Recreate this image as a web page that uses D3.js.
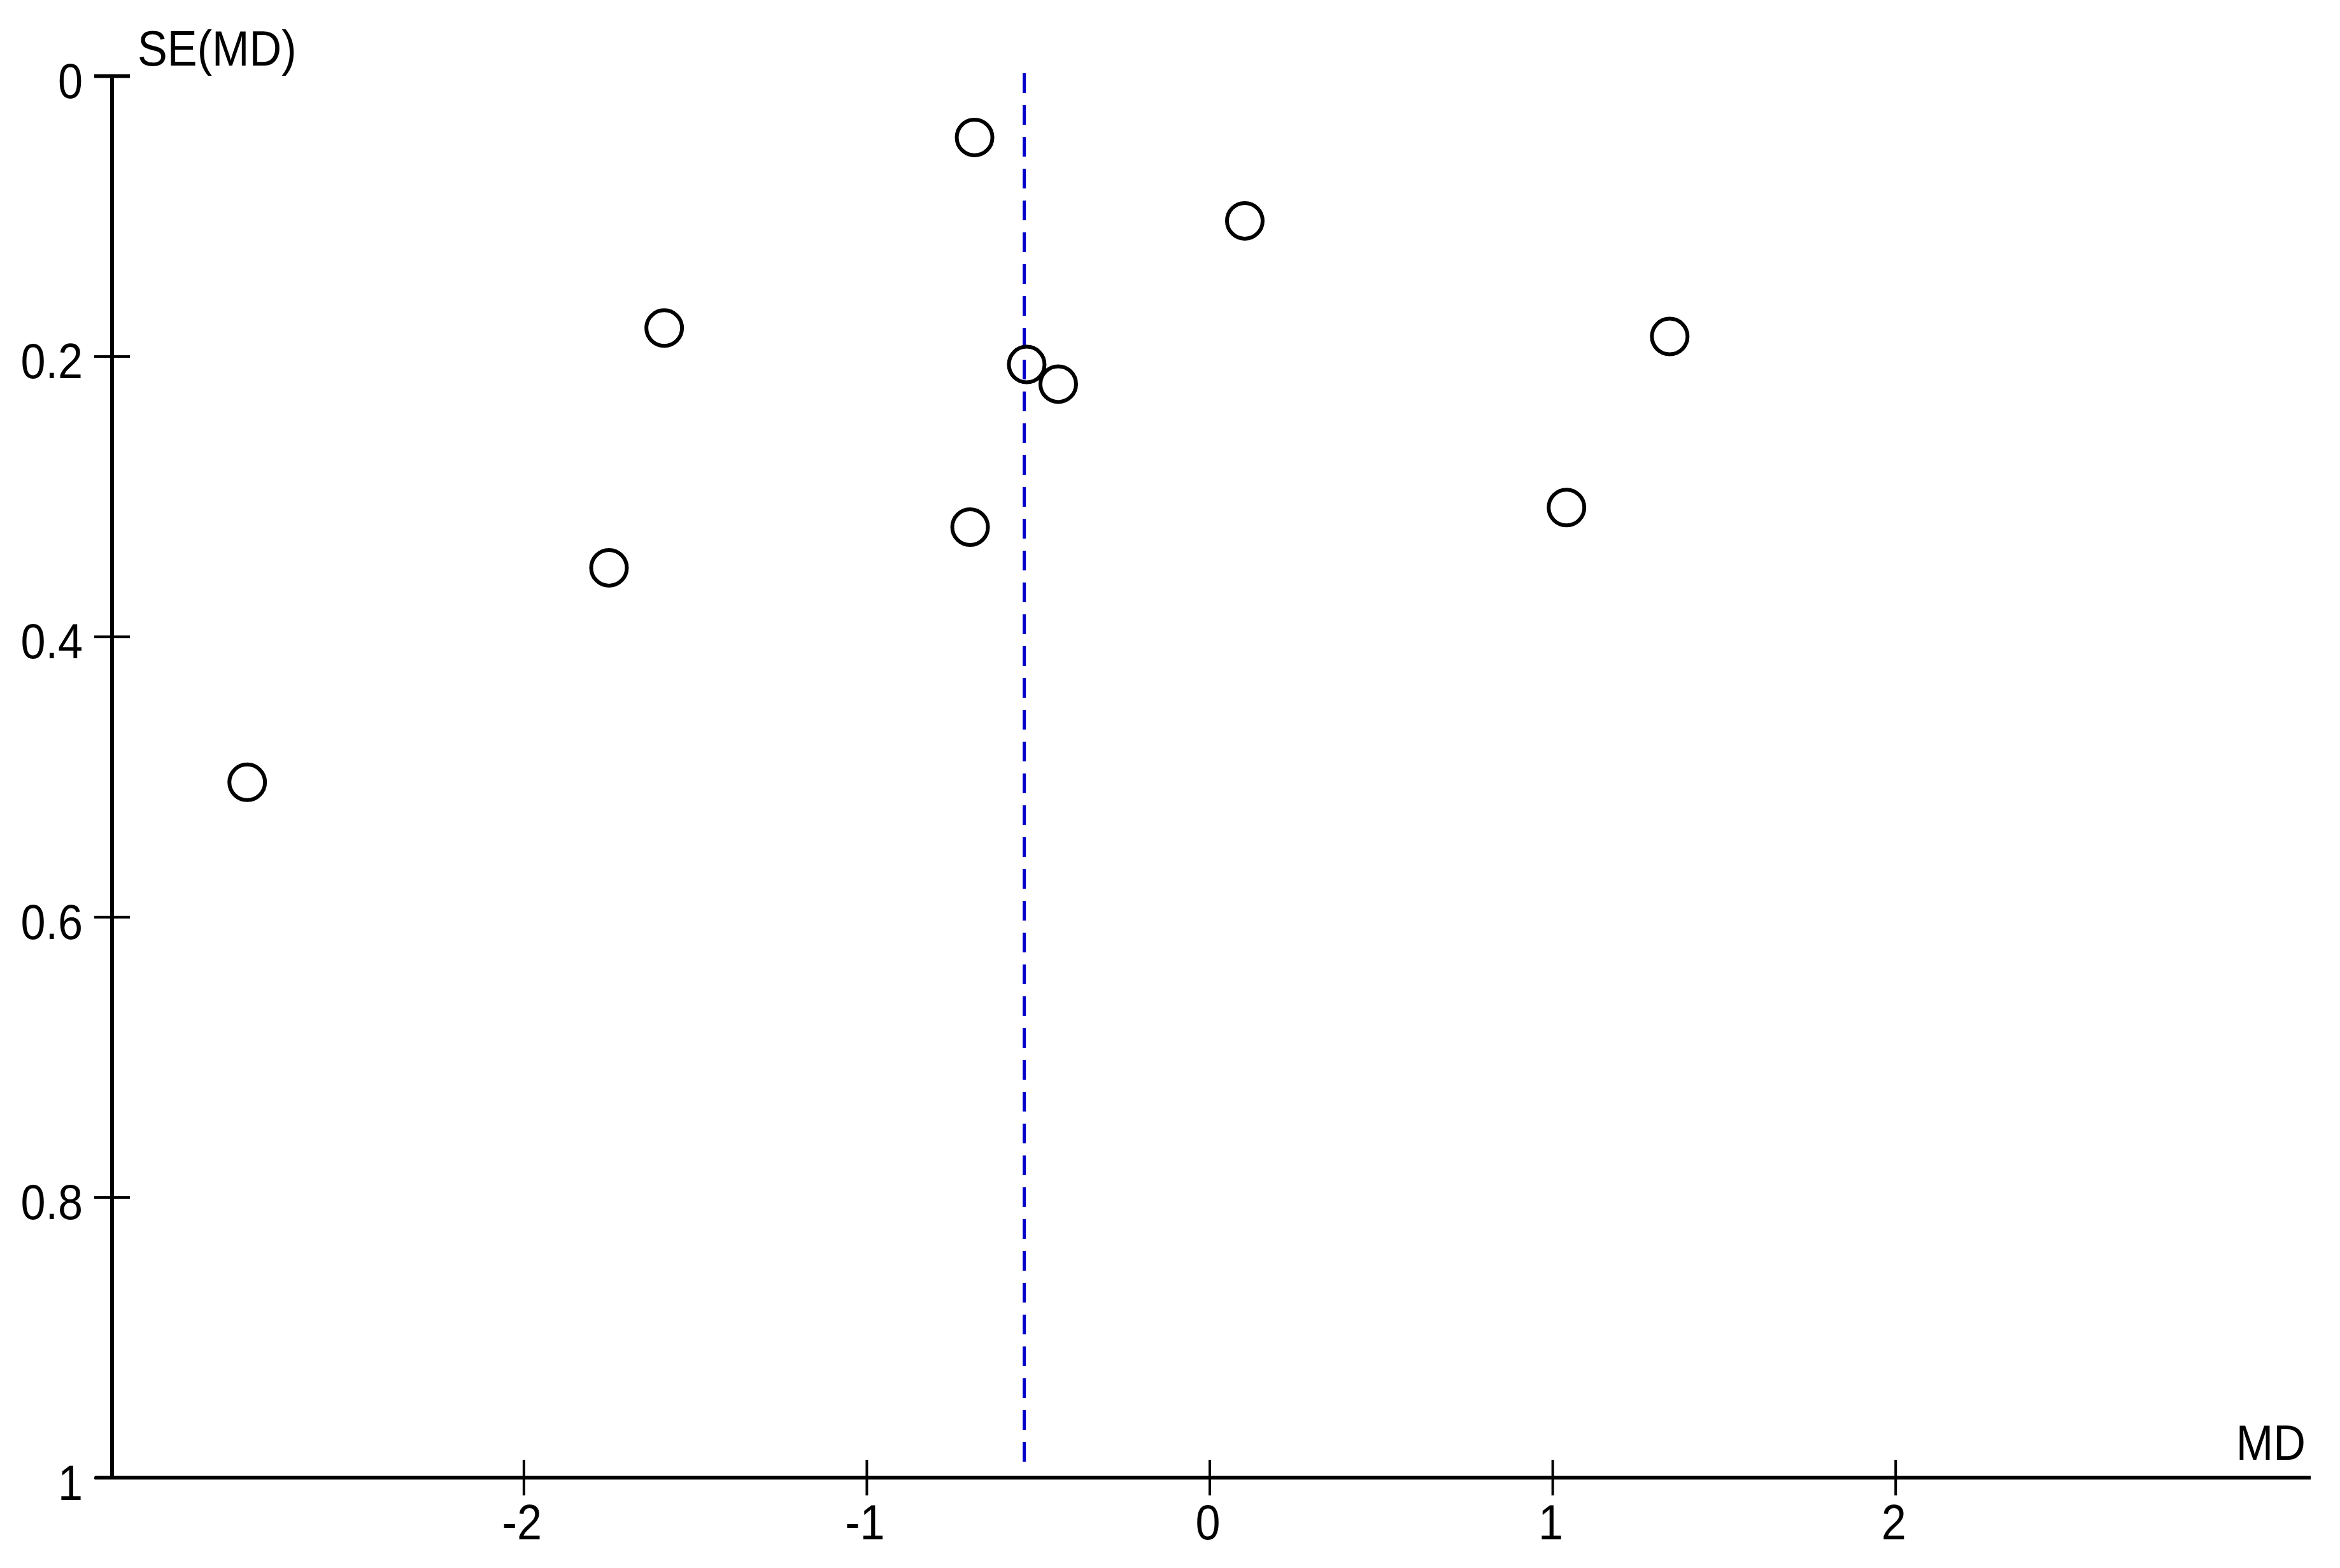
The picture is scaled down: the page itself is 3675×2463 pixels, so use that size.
<!DOCTYPE html>
<html>
<head>
<meta charset="utf-8">
<script src="https://cdn.jsdelivr.net/npm/d3@7"></script>
<style>
  html, body { margin: 0; padding: 0; background: #fff; }
  text { font-family: "Liberation Sans", Arial, sans-serif; fill: #000; }
</style>
</head>
<body>
<script>
// Study estimates (mean difference) and their standard errors
const md = [-0.685, 0.103, -1.590, 1.342, -0.533, -0.441, 1.041, -0.698, -1.751, -2.806];
const se = [0.044, 0.1035, 0.180, 0.186, 0.206, 0.220, 0.308, 0.322, 0.351, 0.504];
const pooledMD = [-0.54];
const xTicks = [-2, -1, 0, 1, 2];
const xTickLabels = ["-2", "-1", "0", "1", "2"];
const yTicks = [0, 0.2, 0.4, 0.6, 0.8, 1];
const yTickLabels = ["0", "0.2", "0.4", "0.6", "0.8", "1"];
const xTitle = "MD";
const yTitle = "SE(MD)";

const W = 3675, H = 2463;
const svg = d3.select("body").append("svg").attr("width", W).attr("height", H);

const x = d3.scaleLinear().domain([-3.2, 3.2]).range([176, 3623]);
const y = d3.scaleLinear().domain([0, 1]).range([119, 2321]);
const FS = 78;
const SX = 0.9; // horizontal compression of the narrow original font

// pooled estimate dashed line
svg.selectAll("line.pooled").data(pooledMD).enter().append("line")
  .attr("class", "pooled")
  .attr("x1", d => x(d)).attr("x2", d => x(d))
  .attr("y1", y(0) - 4).attr("y2", y(1) - 22)
  .attr("stroke", "#0000C8").attr("stroke-width", 5)
  .attr("stroke-dasharray", "31 19");

// x axis
const xAxis = d3.axisBottom(x).tickValues(xTicks).tickFormat((d, i) => xTickLabels[i])
  .tickSizeInner(28).tickSizeOuter(0).tickPadding(40);
const gx = svg.append("g").attr("transform", `translate(0,${y(1)})`).call(xAxis);
gx.select(".domain").remove();
gx.append("line").attr("x1", 149).attr("x2", 3629).attr("y1", 0).attr("y2", 0)
  .attr("stroke", "#000").attr("stroke-width", 6);
gx.selectAll(".tick line").attr("y1", -28).attr("y2", 28).attr("stroke", "#000").attr("stroke-width", 4);
gx.selectAll(".tick text").attr("x", null).attr("y", null).attr("dy", null)
  .attr("transform", `translate(-3,97) scale(${SX},1)`)
  .style("font-size", FS + "px").style("font-family", "'Liberation Sans', Arial, sans-serif").attr("fill", "#000");

// y axis
const yAxis = d3.axisLeft(y).tickValues(yTicks).tickFormat((d, i) => yTickLabels[i])
  .tickSizeInner(28).tickSizeOuter(0).tickPadding(20);
const gy = svg.append("g").attr("transform", `translate(${x(-3.2)},0)`).call(yAxis);
gy.select(".domain").remove();
gy.append("line").attr("x1", 0).attr("x2", 0).attr("y1", y(0)).attr("y2", y(1))
  .attr("stroke", "#000").attr("stroke-width", 6);
gy.selectAll(".tick line").attr("x1", -28).attr("x2", 28).attr("stroke", "#000")
  .attr("stroke-width", d => d === 0 ? 6 : 4);
gy.selectAll(".tick text").attr("x", null).attr("y", null).attr("dy", null)
  .attr("transform", `translate(-46,34) scale(${SX},1)`)
  .style("font-size", FS + "px").style("font-family", "'Liberation Sans', Arial, sans-serif").attr("fill", "#000");

// axis titles
svg.append("text").attr("transform", `translate(216,103) scale(${SX},1)`).style("font-size", FS + "px").text(yTitle);
svg.append("text").attr("transform", `translate(3621,2293) scale(${SX},1)`).attr("text-anchor", "end").style("font-size", FS + "px").text(xTitle);

// study points
svg.selectAll("circle.study").data(md.map((d, i) => ({ md: d, se: se[i] }))).enter().append("circle")
  .attr("class", "study")
  .attr("cx", d => x(d.md)).attr("cy", d => y(d.se)).attr("r", 28)
  .attr("fill", "#fff").attr("fill-opacity", 0).attr("stroke", "#000").attr("stroke-width", 6);
</script>
</body>
</html>
